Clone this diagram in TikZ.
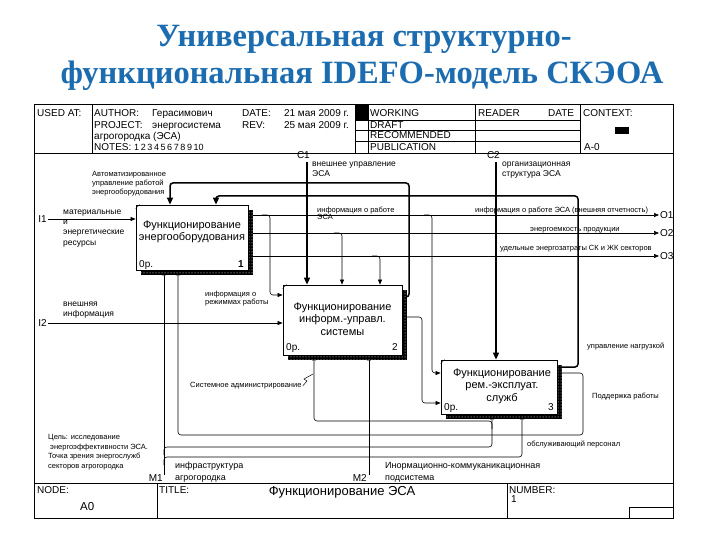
\documentclass[tikz,border=0pt]{standalone}
\usepackage{fontspec}
\setmainfont{Liberation Sans}
\newfontfamily\titlefont{Liberation Serif}
\usetikzlibrary{arrows.meta,positioning,calc,backgrounds,shadows,patterns}
\definecolor{slideblue}{RGB}{28,108,176}

\begin{document}
\begin{tikzpicture}[
    x=1pt,y=-1pt,
    frame/.style={line width=0.8pt},
    ttl/.style={font=\titlefont\bfseries\fontsize{32.5}{36}\selectfont,text=slideblue,anchor=base,inner sep=0pt},
    fnbox/.style={draw,fill=white,line width=0.8pt,
      general shadow={fill=black,shadow xshift=5pt,shadow yshift=-5pt,
        postaction={pattern=dots,pattern color=white}}},
    fntext/.style={align=center,font=\fontsize{11}{12.5}\selectfont,inner sep=0pt},
    num/.style={font=\fontsize{10}{12}\selectfont,inner sep=0pt,anchor=base west},
    arr/.style={-{Triangle[length=5pt,width=4pt]},line width=0.6pt,rounded corners=3pt},
    tarr/.style={arr,-{Triangle[length=7pt,width=6pt]},line width=1.5pt},
    io/.style={font=\fontsize{10}{12}\selectfont,inner sep=0pt},
    hdr/.style={font=\fontsize{10}{12}\selectfont,inner sep=0pt,anchor=base west},
    lbl/.style={font=\fontsize{8.5}{10}\selectfont,inner sep=0pt,anchor=base west,align=left},
    tiny/.style={font=\fontsize{7.5}{8}\selectfont,inner sep=0pt,anchor=base west,align=left},
  ]
  \begin{scope}[on background layer]
    \fill[white] (0,0) rectangle (720,540);
  \end{scope}
  \useasboundingbox (0,0) rectangle (720,540);

  % slide title
  \node[ttl] (ttl1) at (364,47) {Универсальная структурно-};
  \node[ttl] (ttl2) at (362,84) {функциональная IDEFO-модель СКЭОА};

  % form frame
  \draw[frame] (34,104) rectangle (673,518);
  \draw[frame] (34,153) -- (673,153);
  \draw[frame] (34,483) -- (673,483);
  \draw[frame] (92,104) -- (92,153);
  \draw[frame] (355,104) -- (355,153) (368,104) -- (368,153)
    (475,104) -- (475,153) (580,104) -- (580,153);
  \draw[frame] (355,120) -- (580,120) (355,130) -- (580,130) (355,141) -- (580,141);
  \fill (355,104) rectangle (368,120);
  \fill (615,127) rectangle (629,134);
  \draw[frame] (157,483) -- (157,518) (507,483) -- (507,518);
  \draw[frame] (629,507) rectangle (673,518);

  % header
  \node[hdr] (usedat) at (37,117) {USED AT:};
  \node[hdr] (author) at (94,117) {AUTHOR:};
  \node[hdr] (authorval) at (152,117) {Герасимович};
  \node[hdr] (date) at (242,117) {DATE:};
  \node[hdr,anchor=base east] (dateval) at (349,117) {21 мая 2009 г.};
  \node[hdr] (project) at (94,129) {PROJECT:};
  \node[hdr] (projectval) at (152,129) {энергосистема};
  \node[hdr] (rev) at (242,129) {REV:};
  \node[hdr,anchor=base east] (revval) at (349,129) {25 мая 2009 г.};
  \node[hdr] (projectval2) at (94,140) {агрогородка (ЭСА)};
  \node[hdr] (notes) at (94,151) {NOTES:\ {\fontsize{9}{12}\selectfont 1\hspace{1.6pt}2\hspace{1.6pt}3\hspace{1.6pt}4\hspace{1.6pt}5\hspace{1.6pt}6\hspace{1.6pt}7\hspace{1.6pt}8\hspace{1.6pt}9\hspace{1.6pt}10}};
  \node[hdr] (working) at (370,117) {WORKING};
  \node[hdr] (draft) at (370,128.5) {DRAFT};
  \node[hdr] (recommended) at (370,139) {RECOMMENDED};
  \node[hdr] (publication) at (370,151) {PUBLICATION};
  \node[hdr] (reader) at (478,117) {READER};
  \node[hdr] (readerdate) at (548,117) {DATE};
  \node[hdr] (context) at (583,117) {CONTEXT:};
  \node[hdr] (contextval) at (584,151) {A-0};

  % footer
  \node[hdr] (nodelbl) at (37,493) {NODE:};
  \node[hdr,font=\fontsize{11.5}{13}\selectfont] (nodeval) at (80,510) {A0};
  \node[hdr] (titlelbl) at (159,493) {TITLE:};
  \node[hdr,anchor=base,font=\fontsize{13}{15}\selectfont] (titleval) at (342,495) {Функционирование ЭСА};
  \node[hdr] (numberlbl) at (509,493) {NUMBER:};
  \node[hdr] (numberval) at (511,502) {1};

  % activity boxes
  \node[fnbox,minimum width=112pt,minimum height=65pt] (box1) at (192,237.5) {};
  \node[fntext] (box1txt) at (192,232) {Функционирование\\энергооборудования};
  \node[num] (box1op) at (139,267) {0р.};
  \node[num,anchor=base east,font=\bfseries\fontsize{10}{12}\selectfont] (box1no) at (244,267) {1};

  \node[fnbox,minimum width=119pt,minimum height=70pt] (box2) at (342.5,320) {};
  \node[fntext] (box2txt) at (342.5,319) {Функционирование\\информ.-управл.\\системы};
  \node[num] (box2op) at (286,350) {0р.};
  \node[num,anchor=base east] (box2no) at (398,350) {2};

  \node[fnbox,minimum width=116pt,minimum height=54pt] (box3) at (499,387) {};
  \node[fntext] (box3txt) at (502,386) {Функционирование\\рем.-эксплуат.\\служб};
  \node[num] (box3op) at (444,410) {0р.};
  \node[num,anchor=base east] (box3no) at (554,410) {3};

  \draw (box1.north west) ++(0,4) -- ++(4,-4);
  \draw (box2.north west) ++(0,4) -- ++(4,-4);
  \draw (box3.north west) ++(0,4) -- ++(4,-4);

  % boundary arrows
  \coordinate (i1) at (48,219);
  \node[io,left=1pt of i1] (I1) {I1};
  \coordinate (i2) at (48,323);
  \node[io,left=1pt of i2] (I2) {I2};
  \coordinate (c1) at (307,162);
  \node[io,anchor=base east] (C1) at (310,159) {C1};
  \coordinate (c2) at (496,162);
  \node[io,anchor=base east] (C2) at (500,159) {C2};
  \coordinate (o1) at (659,215);
  \node[io,right=1pt of o1] (O1) {O1};
  \coordinate (o2) at (659,233);
  \node[io,right=1pt of o2] (O2) {O2};
  \coordinate (o3) at (659,256);
  \node[io,right=1pt of o3] (O3) {O3};
  \coordinate (m1) at (164,475);
  \node[io,anchor=base east] (M1) at (163,481) {M1};
  \coordinate (m2) at (369,475);
  \node[io,anchor=base east] (M2) at (367,481) {M2};

  % arrow labels (base = last line)
  \node[tiny,font=\fontsize{7.5}{9}\selectfont] (lblauto) at (92,195) {Автоматизированное\\управление работой\\энергооборудования};
  \node[lbl] (lblc1) at (312,177) {внешнее управление\\ЭСА};
  \node[lbl] (lblc2) at (502,177) {организационная\\структура ЭСА};
  \node[lbl,font=\fontsize{8.5}{10.3}\selectfont] (lbli1) at (63,245) {материальные\\и\\энергетические\\ресурсы};
  \node[lbl] (lbli2) at (63,316) {внешняя\\информация};
  \node[tiny] (lblinfo) at (317,220) {информация о работе\\ЭСА};
  \node[tiny] (lblo1) at (475,212) {информация о работе ЭСА (внешняя отчетность)};
  \node[tiny] (lblo2) at (530,231) {энергоемкость продукции};
  \node[tiny] (lblo3) at (500,250) {удельные энергозатраты СК и ЖК секторов};
  \node[tiny] (lblmode) at (205,304) {информация о\\режиммах работы};
  \node[tiny] (lblload) at (587,348) {управление нагрузкой};
  \node[tiny] (lblsupp) at (592,398) {Поддержка работы};
  \node[tiny] (lbladmin) at (190,387) {Системное администрирование};
  \node[tiny] (lblstaff) at (527,446) {обслуживающий персонал};
  \node[tiny,font=\fontsize{7.5}{9.4}\selectfont] (lblgoal) at (48,468) {Цель: исследование\\\hspace{2pt}энергоэффективности ЭСА.\\Точка зрения энергослужб\\секторов агрогородка};
  \node[lbl,font=\fontsize{9}{12}\selectfont] (lblm1) at (175,480) {инфраструктура\\агрогородка};
  \node[lbl,font=\fontsize{9}{12}\selectfont] (lblm2) at (385,480) {Инормационно-коммуканикационная\\подсистема};

  \begin{scope}[on background layer]
    % controls
    \draw[tarr] (c1) -- (c1 |- box2.north);
    \draw[tarr] (c2) -- (c2 |- box3.north);
    % feedback to box 1
    \draw[tarr] (box2.north east |- 0,297) -- (409,297) -- (409,183) -- (170,183) -- (170,0 |- box1.north);
    \draw[tarr] (box3.north east |- 0,367) -- (578,367) -- (578,196) -- (216,196) -- (216,0 |- box1.north);
    % inputs
    \draw[arr] (i1) -- (i1 -| box1.west);
    \draw[arr] (i2) -- (i2 -| box2.west);
    % outputs of box 1
    \draw[arr] (box1.north east |- 0,215) -- (o1);
    \draw[arr] (262,215) -- (270,215) -- (270,295) -- (box2.west |- 0,295);
    \draw[arr] (424,215) -- (432,215) -- (432,373) -- (box3.west |- 0,373);
    \draw[arr] (box1.north east |- 0,233) -- (o2);
    \draw[arr] (334,233) -- (342,233) -- (342,0 |- box2.north);
    \draw[arr] (box1.north east |- 0,256) -- (o3);
    \draw[arr] (372,256) -- (380,256) -- (380,0 |- box2.north);
    % box 2 to box 3
    \draw[arr] (box2.north east |- 0,317) -- (422,317) -- (422,403) -- (box3.west |- 0,403);
    % support of box 1
    \draw[arr] (box3.north east |- 0,373) -- (583,373) -- (583,435) -- (178,435) -- (178,0 |- box1.south);
    % mechanisms
    \draw[arr] (m1) -- (m1 |- box1.south);
    \draw[arr] (164,455) -- (164,447) -- (492,447) -- (492,0 |- box3.south);
    \draw[arr] (164,465) -- (164,457) -- (522,457) -- (522,0 |- box3.south);
    \draw[arr] (492,429) -- (492,421) -- (314,421) -- (314,0 |- box2.south);
    \draw[arr] (m2) -- (m2 |- box2.south);
    \draw[line width=0.5pt] (lbladmin.base east) ++(1,-1) -- (307,381) -- (304,379) -- (313,374);
  \end{scope}
\end{tikzpicture}
\end{document}
